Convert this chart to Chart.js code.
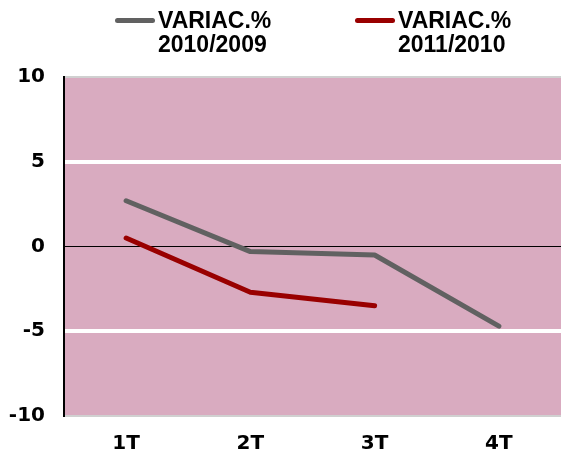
<!DOCTYPE html>
<html>
<head>
<meta charset="utf-8">
<script src="https://cdn.jsdelivr.net/npm/chart.js@4/dist/chart.umd.min.js"></script>
<style>
  html, body { margin: 0; padding: 0; background: #fff; }
  #wrap { position: relative; width: 561px; height: 454px; }
  .leg { position: absolute; top: 8px; font: bold 23px "Liberation Sans Narrow", "Arial Narrow", sans-serif; line-height: 24px; color: #000; }
  .leg .ln { position: absolute; left: -43px; top: 10px; width: 40px; height: 5px; border-radius: 3px; }
</style>
</head>
<body>
<div id="wrap">
  <canvas id="chart" width="561" height="454"></canvas>
  <div class="leg" style="left:158px"><span class="ln" style="background:#616161"></span>VARIAC.%<br>2010/2009</div>
  <div class="leg" style="left:398px"><span class="ln" style="background:#990000"></span>VARIAC.%<br>2011/2010</div>
</div>
<script>
// Data
let quarters = ["1T", "2T", "3T", "4T"];
let var2010 = [2.7, -0.3, -0.5, -4.7];
let var2011 = [0.5, -2.7, -3.5, null];
let yTicks = [10, 5, 0, -5, -10];

const plotBg = {
  id: 'plotBg',
  beforeDraw(chart) {
    const a = chart.chartArea;
    const ctx = chart.ctx;
    ctx.save();
    ctx.fillStyle = '#d9abc0';
    ctx.fillRect(a.left, a.top, a.right - a.left, a.bottom - a.top);
    ctx.restore();
  }
};

function gridColor(ctx) {
  let v = ctx.tick ? ctx.tick.value : null;
  if (v === 0) return '#000';
  if (v === 5 || v === -5) return '#ffffff';
  return '#d0d0d0';
}
function gridWidth(ctx) {
  let v = ctx.tick ? ctx.tick.value : null;
  if (v === 0) return 1;
  if (v === 5 || v === -5) return 4;
  return 2;
}

let ctx = document.getElementById("chart").getContext("2d");
new Chart(ctx, {
  type: "line",
  data: {
    labels: quarters,
    datasets: [
      { label: "VARIAC.% 2010/2009", data: var2010, borderColor: '#616161', borderWidth: 5, pointRadius: 0, tension: 0, borderCapStyle: 'round', borderJoinStyle: 'round' },
      { label: "VARIAC.% 2011/2010", data: var2011, borderColor: '#990000', borderWidth: 5, pointRadius: 0, tension: 0, borderCapStyle: 'round', borderJoinStyle: 'round' }
    ]
  },
  options: {
    responsive: false,
    animation: false,
    layout: { padding: { top: 77, right: 0, left: 0, bottom: 0 } },
    plugins: { legend: { display: false }, tooltip: { enabled: false } },
    scales: {
      x: {
        offset: true,
        grid: { display: false, drawTicks: false },
        border: { display: false },
        ticks: { color: '#000', font: { family: 'DejaVu Sans', weight: 'bold', size: 20 }, padding: 16 },
        afterFit(s) { s.height = 38; }
      },
      y: {
        min: -10, max: 10,
        afterBuildTicks(s) { s.ticks = yTicks.map(v => ({ value: v })); },
        grid: { color: gridColor, lineWidth: gridWidth, drawTicks: false },
        border: { display: true, color: '#000', width: 2 },
        ticks: { color: '#000', font: { family: 'DejaVu Sans', weight: 'bold', size: 20 }, padding: 19 },
        afterFit(s) { s.width = 64; }
      }
    }
  },
  plugins: [plotBg]
});
</script>
</body>
</html>
